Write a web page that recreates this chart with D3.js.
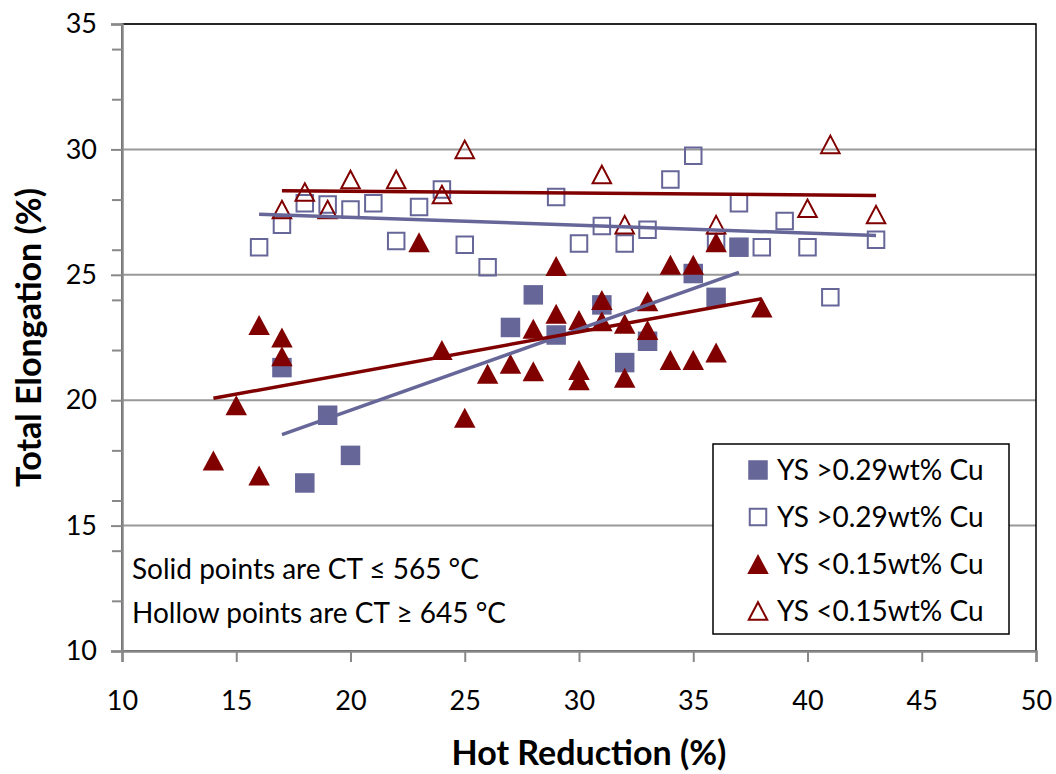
<!DOCTYPE html>
<html>
<head>
<meta charset="utf-8">
<script src="https://cdn.jsdelivr.net/npm/d3@7"></script>
<style>
  body { margin: 0; background: #fff; }
  svg { display: block; font-family: Lato, "Open Sans", sans-serif; }
</style>
</head>
<body>
<svg id="chart"></svg>
<script>
// YS >0.29wt% Cu, CT <= 565 (solid squares)
const solidHighCuX = [17, 18, 19, 20, 27, 28, 29, 31, 32, 33, 35, 36, 37];
const solidHighCuY = [21.3, 16.7, 19.4, 17.8, 22.9, 24.2, 22.6, 23.8, 21.5, 22.35, 25.05, 24.1, 26.1];

// YS >0.29wt% Cu, CT >= 645 (hollow squares)
const hollowHighCuX = [16, 17, 18, 19, 20, 21, 22, 23, 24, 25, 26, 29, 30, 31, 32, 33, 34, 35, 36, 37, 38, 39, 40, 41, 43];
const hollowHighCuY = [26.1, 27.0, 27.85, 27.8, 27.6, 27.85, 26.35, 27.7, 28.4, 26.2, 25.3, 28.1, 26.25, 26.95, 26.25, 26.8, 28.8, 29.75, 26.3, 27.85, 26.1, 27.15, 26.1, 24.1, 26.4];

// YS <0.15wt% Cu, CT <= 565 (solid triangles)
const solidLowCuX = [14, 15, 16, 16, 17, 17, 23, 24, 25, 26, 27, 28, 28, 29, 29, 30, 30, 30, 31, 31, 32, 32, 33, 33, 34, 34, 35, 35, 36, 36, 38];
const solidLowCuY = [17.6, 19.8, 23.0, 17.0, 22.5, 21.75, 26.3, 22.0, 19.3, 21.05, 21.45, 22.85, 21.15, 25.35, 23.45, 23.2, 21.2, 20.8, 24.0, 23.15, 23.05, 20.9, 23.95, 22.8, 25.4, 21.6, 25.4, 21.6, 26.3, 21.9, 23.7];

// YS <0.15wt% Cu, CT >= 645 (hollow triangles)
const hollowLowCuX = [17, 18, 19, 20, 22, 24, 25, 31, 32, 36, 40, 41, 43];
const hollowLowCuY = [27.6, 28.3, 27.6, 28.8, 28.8, 28.2, 30.0, 29.0, 27.0, 27.0, 27.65, 30.2, 27.4];

const xTicks = [10, 15, 20, 25, 30, 35, 40, 45, 50];
const yTicks = [10, 15, 20, 25, 30, 35];
const yMinorTicks = [12, 14, 16, 18, 22, 24, 26, 28, 32, 34];

const legendLabels = ['YS >0.29wt% Cu', 'YS >0.29wt% Cu', 'YS <0.15wt% Cu', 'YS <0.15wt% Cu'];
const noteLines = ['Solid points are CT \u2264 565 \u00B0C', 'Hollow points are CT \u2265 645 \u00B0C'];

const BLUE = '#666699';
const RED = '#800000';

const width = 1056;
const height = 774;
const margin = {top: 24, right: 20, bottom: 123, left: 122};

const svg = d3.select('#chart')
    .attr('width', width)
    .attr('height', height);

svg.append('rect')
    .attr('width', width)
    .attr('height', height)
    .attr('fill', '#fff');

const xScale = d3.scaleLinear()
    .domain([10, 50])
    .range([margin.left, width - margin.right]);

const yScale = d3.scaleLinear()
    .domain([10, 35])
    .range([height - margin.bottom, margin.top]);

const x0 = xScale.range()[0], x1 = xScale.range()[1];
const yTop = yScale.range()[1], yBot = yScale.range()[0];

// gridlines
svg.append('g')
    .selectAll('line')
    .data(yTicks.filter(t => t > 10))
    .enter()
    .append('line')
    .attr('x1', x0)
    .attr('x2', x1)
    .attr('y1', d => yScale(d))
    .attr('y2', d => yScale(d))
    .attr('stroke', '#999')
    .attr('stroke-width', 2);

// plot border
svg.append('rect')
    .attr('x', x0)
    .attr('y', yTop)
    .attr('width', x1 - x0)
    .attr('height', yBot - yTop)
    .attr('fill', 'none')
    .attr('stroke', '#000')
    .attr('stroke-width', 1.5);

// y axis
const yAxis = svg.append('g')
    .attr('transform', `translate(${x0}, 0)`)
    .call(d3.axisLeft(yScale).tickValues(yTicks).tickSize(11).tickPadding(14));
yAxis.selectAll('.tick line').attr('stroke', '#888').attr('stroke-width', 2);
yAxis.select('.domain').attr('stroke', '#888').attr('stroke-width', 2.5);
yAxis.selectAll('text')
    .attr('font-size', 27)
    .attr('fill', '#000')
    .style('font-family', 'Lato, sans-serif');

svg.append('g')
    .attr('transform', `translate(${x0}, 0)`)
    .call(d3.axisLeft(yScale).tickValues(yMinorTicks).tickSize(10).tickFormat(''))
    .call(g => g.select('.domain').remove())
    .selectAll('.tick line').attr('stroke', '#888').attr('stroke-width', 2);

// x axis
const xAxis = svg.append('g')
    .attr('transform', `translate(0, ${yBot})`)
    .call(d3.axisBottom(xScale).tickValues(xTicks).tickSize(11).tickPadding(29));
xAxis.selectAll('.tick line').attr('stroke', '#888').attr('stroke-width', 2);
xAxis.select('.domain').attr('stroke', '#888').attr('stroke-width', 2.5);
xAxis.selectAll('text')
    .attr('font-size', 27)
    .attr('fill', '#000')
    .style('font-family', 'Lato, sans-serif');

// axis titles
svg.append('text')
    .attr('x', 589)
    .attr('y', 765)
    .attr('text-anchor', 'middle')
    .attr('font-size', 34)
    .attr('font-weight', 'bold')
    .text('Hot Reduction (%)');

svg.append('text')
    .attr('transform', `translate(41, ${(yTop + yBot) / 2}) rotate(-90)`)
    .attr('text-anchor', 'middle')
    .attr('font-size', 34)
    .attr('font-weight', 'bold')
    .text('Total Elongation (%)');

// markers
const sq = s => `M${-s / 2},${-s / 2}h${s}v${s}h${-s}Z`;
const tri = (w, h) => `M0,${-h / 2}L${w / 2},${h / 2}L${-w / 2},${h / 2}Z`;

const markerStyles = [
    {d: sq(19.5), fill: BLUE, stroke: 'none', sw: 0},
    {d: sq(16.5), fill: 'none', stroke: BLUE, sw: 2},
    {d: tri(21.5, 20), fill: RED, stroke: 'none', sw: 0},
    {d: tri(18.5, 17.5), fill: 'none', stroke: RED, sw: 2}
];

const seriesList = [
    {xs: solidHighCuX, ys: solidHighCuY, style: markerStyles[0], line: BLUE},
    {xs: hollowHighCuX, ys: hollowHighCuY, style: markerStyles[1], line: BLUE},
    {xs: solidLowCuX, ys: solidLowCuY, style: markerStyles[2], line: RED},
    {xs: hollowLowCuX, ys: hollowLowCuY, style: markerStyles[3], line: RED}
];

seriesList.forEach(s => {
    const pts = s.xs.map((x, i) => ({x: x, y: s.ys[i]}));
    svg.append('g')
        .selectAll('path')
        .data(pts)
        .enter()
        .append('path')
        .attr('transform', d => `translate(${xScale(d.x)}, ${yScale(d.y)})`)
        .attr('d', s.style.d)
        .attr('fill', s.style.fill)
        .attr('stroke', s.style.stroke)
        .attr('stroke-width', s.style.sw);
});

// linear trendlines (least squares)
seriesList.forEach(s => {
    const mx = d3.mean(s.xs), my = d3.mean(s.ys);
    const sxy = d3.sum(s.xs, (x, i) => (x - mx) * (s.ys[i] - my));
    const sxx = d3.sum(s.xs, x => (x - mx) * (x - mx));
    const slope = sxy / sxx;
    const ends = d3.extent(s.xs).map(x => ({x: x, y: my + slope * (x - mx)}));
    svg.append('path')
        .datum(ends)
        .attr('fill', 'none')
        .attr('stroke', s.line)
        .attr('stroke-width', 3.5)
        .attr('d', d3.line().x(d => xScale(d.x)).y(d => yScale(d.y)));
});

// note
svg.append('g')
    .selectAll('text')
    .data(noteLines)
    .enter()
    .append('text')
    .attr('x', 132)
    .attr('y', (d, i) => 579 + i * 44)
    .attr('font-size', 28)
    .text(d => d);

// legend
const legend = svg.append('g');
legend.append('rect')
    .attr('x', 713)
    .attr('y', 444)
    .attr('width', 296)
    .attr('height', 190)
    .attr('fill', '#fff')
    .attr('stroke', '#000')
    .attr('stroke-width', 1.5);

const legendRows = legend.selectAll('g.row')
    .data(legendLabels)
    .enter()
    .append('g')
    .attr('class', 'row')
    .attr('transform', (d, i) => `translate(758, ${470 + i * 47})`);

legendRows.append('path')
    .attr('d', (d, i) => markerStyles[i].d)
    .attr('fill', (d, i) => markerStyles[i].fill)
    .attr('stroke', (d, i) => markerStyles[i].stroke)
    .attr('stroke-width', (d, i) => markerStyles[i].sw);

legendRows.append('text')
    .attr('x', 19)
    .attr('y', 10)
    .attr('font-size', 28)
    .text(d => d);
</script>
</body>
</html>
